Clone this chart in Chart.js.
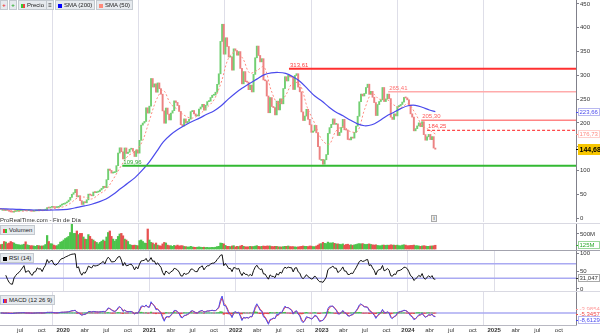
<!DOCTYPE html>
<html>
<head>
<meta charset="utf-8">
<script src="https://cdn.jsdelivr.net/npm/chart.js@4.4.1/dist/chart.umd.min.js"></script>
<style>
  body { margin: 0; background: #fff; }
  #wrap { position: relative; width: 600px; height: 336px; overflow: hidden; background: #fff;
          font-family: "Liberation Sans", Arial, sans-serif; font-size: 6px; color: #222; }
  #wrap canvas { position: absolute; left: 0; }
  .sep { position: absolute; left: 0; width: 600px; height: 1px; }
  .box { position: absolute; box-sizing: border-box; height: 10px; line-height: 8px; background: #e6eaee;
         border: 1px solid #c3c9cf; white-space: nowrap; padding: 0 2px 0 1px; }
  .sq { display: inline-block; width: 4px; height: 4px; margin: 0 2px 0 1px; vertical-align: -0.5px; }
</style>
</head>
<body>
<div id="wrap">
  <canvas id="price" width="600" height="222" style="top:0"></canvas>
  <canvas id="volume" width="600" height="26" style="top:224px"></canvas>
  <canvas id="rsi" width="600" height="40" style="top:251px"></canvas>
  <canvas id="macd" width="600" height="44" style="top:292px"></canvas>

  <div class="sep" style="top:223px;background:#d9d9e2"></div>
  <div class="sep" style="top:250px;background:#a3a3ae"></div>
  <div class="sep" style="top:291px;background:#d9d9e2"></div>
  <div class="sep" style="top:325px;width:577px;background:#b8b8c2"></div>

  <div class="box" style="left:0;top:0;width:8px;color:#e33;font-weight:bold;text-align:center;padding:0">+</div>
  <div class="box" style="left:9px;top:0;width:8px;color:#2a2;font-weight:bold;text-align:center;padding:0">+</div>
  <div class="box" style="left:18px;top:0"><span class="sq" style="background:linear-gradient(90deg,#3c3 50%,#e44 50%)"></span>Precio</div>
  <div class="box" style="left:46px;top:0;width:8px;text-align:center;padding:0">&#8801;</div>
  <div class="box" style="left:55px;top:0"><span class="sq" style="background:#00f"></span>SMA (200)</div>
  <div class="box" style="left:96px;top:0"><span class="sq" style="background:#ff8a7a"></span>SMA (50)</div>

  <div style="position:absolute;left:0;top:216px;line-height:8px;color:#333">ProRealTime.com - Fin de Día</div>
  <div style="position:absolute;left:431px;top:215px;width:6px;height:7px;box-sizing:border-box;border:1px solid #aaa;background:#eee;line-height:5px;text-align:center;font-size:5px">i</div>

  <div class="box" style="left:0;top:225px"><span class="sq" style="background:linear-gradient(90deg,#e44 50%,#3c3 50%)"></span>Volumen</div>
  <div class="box" style="left:0;top:253px"><span class="sq" style="background:#000"></span>RSI (14)</div>
  <div class="box" style="left:0;top:295px"><span class="sq" style="background:linear-gradient(90deg,#33f 33%,#e33 33%,#e33 66%,#a3a 66%)"></span>MACD (12 26 9)</div>
</div>

<script>
const FONT = '"Liberation Sans", Arial, sans-serif';
const DAY = 864e5;

// weekly closes, first week ends Fri 2019-04-12 (split adjusted)
const firstWeek = Date.UTC(2019, 3, 12);
const firstOpen = 18.3;
const close2019 = [18.2,18.2,15.8,17.1, 15.9,14.1,12.7,12.3, 13.6,14.2,14.7,15.0, 15.6,16.3,17.2,15.2,15.6,
  15.7,14.6,14.1,15.0, 15.1,16.3,16.0,16.1,15.4, 16.5,17.5,21.9,20.9, 22.5,23.5,22.2,21.9, 22.4,23.9,27.0,28.7,29.5];
const close2020 = [31.9,34.0,37.6,43.4, 49.9,53.3,60.1,44.5, 46.9,36.4,28.5,34.3,32.0, 38.2,50.2,48.3,46.7,
  54.6,53.3,54.4,55.7, 59.0,62.3,66.7,63.9,80.5, 102.9,100.0,94.5,95.4, 96.8,110.0,136.6,147.6,139.4,
  124.0,147.3,135.7,138.4, 144.7,146.3,140.3,129.3, 143.1,136.4,163.3,195.3,199.7, 203.0,231.7,220.6,235.2];
const close2021 = [293.3,275.4,282.0,264.5, 284.0,272.0,260.4,225.2, 199.3,231.2,218.3,206.2,220.6,
  225.7,246.3,243.0,236.5, 224.1,196.3,193.3,208.4,199.7, 203.0,207.8,223.6,226.0, 218.9,214.6,214.7,229.1,
  233.4,239.0,226.8,237.1,244.7, 245.7,253.3,258.1,258.5, 264.5,281.1,303.2,371.3,
  407.4,344.5,379.0,360.6,338.3, 339.0,310.9,355.7,352.3];
const close2022 = [342.3,349.9,314.6,282.1,307.8, 286.7,285.7,269.9,279.4, 265.1,302.0,336.9,361.5,
  341.8,328.3,335.0,290.3, 288.5,256.5,221.3,253.2,234.5, 232.2,216.8,245.7,227.3, 250.8,240.1,272.2,297.1,
  288.2,300.0,296.7,296.1,270.2, 299.7,303.4,275.3,265.3, 223.1,205.0,214.4,228.5,207.5,
  196.0,180.2,182.9,194.7, 179.1,150.2,123.2,123.2];
const close2023 = [113.1,122.4,133.4,177.9,190.0, 196.9,208.3,196.9,197.8, 173.4,180.1,190.4,207.5,
  185.5,185.0,165.1,164.3, 170.1,168.0,180.1,193.2,214.0, 244.4,260.5,256.6,261.8, 274.4,281.4,260.0,266.4,253.9,
  242.7,215.5,238.6,245.0, 248.5,274.4,244.9,250.2, 260.5,251.1,212.0,207.3,219.0,
  214.7,234.3,235.5,238.8, 243.8,253.5,252.5,248.5];
const close2024 = [237.5,219.0,212.2,183.3,187.9, 193.6,200.0,192.0,202.6, 175.3,163.6,170.8,175.8,
  164.9,171.1,147.1,144.68];

// volume, millions (split adjusted)
const vol2019 = [150,160,250,230, 180,200,250,220, 200,160,150,140, 130,140,160,240,140,
  120,110,110,100, 90,120,110,100,100, 110,150,450,250, 180,170,130,110, 110,150,230,250,300];
const vol2020 = [350,380,420,550, 900,520,520,600, 480,520,520,400,330, 320,480,420,330, 300,250,220,170,
  220,260,300,260,400, 550,600,420,330, 260,320,420,500,520, 440,330,300,250, 150,130,120,130,
  120,110,280,300,250, 200,190,666,300];
const vol2021 = [220,200,150,200, 130,110,100,170, 220,200,130,110,110, 90,120,100,130, 100,110,110,85,80,
  70,65,90,70, 60,55,60,70, 60,55,60,50,55, 45,50,55,50, 60,80,90,200, 190,170,120,90,90, 80,100,110,70];
const vol2022 = [90,80,100,120,90, 75,70,75,90, 80,85,95,110, 90,80,90,100, 90,100,100,100,85,
  80,90,90,75, 70,70,80,90, 90,100,80,80,80, 70,65,70,80, 90,100,90,90,80, 100,95,80,80, 100,130,170,180];
const vol2023 = [220,190,180,230,200, 200,210,190,170, 170,160,150,170, 130,150,160,130, 140,120,140,150,170,
  180,170,180,160, 150,160,170,150,140, 130,140,120,110, 110,130,130,120, 130,120,140,130,130,
  120,130,110,110, 130,140,130,110];
const vol2024 = [110,120,120,130,110, 110,100,90,100, 110,100,90,90, 100,100,110,125];

// moving averages read at the start of each month, Apr 2019 .. Apr 2024
const smaFirstMonth = [2019, 3];
const sma200 = [19.5,19.2,18.6,18.0,17.4,16.8,16.4,16.5,17.0,
  17.6,19.2,22.5,25.5,29,34,40,50,62,73,85,100,
  118,140,160,175,186,195,203,210,218,225,236,250,
  263,274,283,292,301,305,306,304,297,287,272,257,
  246,233,223,215,206,198,194,196,204,214,222,230,
  236,237,233,227];
const sma50 = [19.8,18.5,16.0,14.0,15.3,15.2,15.4,16.8,20.5,
  23.5,31,42,44,40,50,60,82,108,130,140,160,
  205,250,268,240,228,215,210,218,232,248,285,335,
  350,335,305,310,318,268,240,258,285,280,232,200,
  165,155,182,192,182,182,228,262,250,250,238,232,
  240,220,195,185];
const sma200Last = 223.66;
const sma50Last = 176.73;

// support / resistance levels and the day they start
const levelValues = [313.61, 265.41, 205.30, 184.25, 109.96];
const levelStarts = ['2022-08-15', '2023-10-09', '2024-02-26', '2024-03-22', '2020-09-08'];

// axis ticks and last values shown on the right
const priceTicks = [0, 50, 100, 150, 200, 250, 300, 350, 400, 450];
const volumeTicks = [500];
const rsiTicks = [0, 50, 100];
const rsiLevels = [30, 70];
const lastVolume = 125;
const lastRsi = 31.047;
const lastMacd = [-3.9854, -5.3457, -8.6129];
const monthNames = ['', 'abr', 'jul', 'oct'];

const X_MIN = 2019.267, X_MAX = 2025.949;
const GREEN = '#72cf72', RED = '#ec8282';

function yearFrac(t) {
  const y = new Date(t).getUTCFullYear();
  const a = Date.UTC(y, 0, 1);
  return y + (t - a) / (Date.UTC(y + 1, 0, 1) - a);
}
const comma = (v, d) => v.toFixed(d).replace('.', ',');

const closes = [].concat(close2019, close2020, close2021, close2022, close2023, close2024);
const volumes = [].concat(vol2019, vol2020, vol2021, vol2022, vol2023, vol2024);
const weekX = closes.map((c, i) => yearFrac(firstWeek + i * 7 * DAY));
const opens = closes.map((c, i) => i ? closes[i - 1] : firstOpen);
const upDown = closes.map((c, i) => c >= opens[i] ? GREEN : RED);
const volColors = closes.map((c, i) => c >= opens[i] ? '#4cc44c' : '#e85050');
const lastX = weekX[weekX.length - 1];

const monthX = sma200.map((v, i) => yearFrac(Date.UTC(smaFirstMonth[0], smaFirstMonth[1] + i, 1)));
const sma200Pts = sma200.map((v, i) => ({x: monthX[i], y: v})).concat([{x: lastX, y: sma200Last}]);
const sma50Pts = sma50.map((v, i) => ({x: monthX[i], y: v})).concat([{x: lastX, y: sma50Last}]);

// indicators, periods converted from days to weeks
function ema(src, n) {
  const k = 2 / (n + 1), out = [];
  src.forEach((v, i) => out.push(i ? out[i - 1] + k * (v - out[i - 1]) : v));
  return out;
}
function rsi(src, n) {
  let g = 0, l = 0;
  return src.map((v, i) => {
    if (!i) return null;
    const d = v - src[i - 1];
    g += ((d > 0 ? d : 0) - g) / n;
    l += ((d < 0 ? -d : 0) - l) / n;
    return i < 3 ? null : 100 - 100 / (1 + g / (l || 1e-9));
  });
}
const rsiVals = rsi(closes, 8);
const fast = ema(closes, 12 / 5), slow = ema(closes, 26 / 5);
const macdVals = fast.map((v, i) => v - slow[i]);
const signalVals = ema(macdVals, 9 / 5);
const histVals = macdVals.map((v, i) => v - signalVals[i]);

Chart.defaults.font.family = FONT;
Chart.defaults.font.size = 6;

function xScale(showLabels) {
  return {
    type: 'linear', min: X_MIN, max: X_MAX, offset: false,
    afterBuildTicks: s => {
      const t = [];
      for (let v = 2019.5; v < X_MAX; v += 0.25) t.push({value: +v.toFixed(2)});
      s.ticks = t;
    },
    grid: {color: c => (c.tick && Number.isInteger(c.tick.value)) ? '#dedee8' : 'rgba(0,0,0,0)', drawTicks: false},
    border: {display: false},
    ticks: {
      display: showLabels, autoSkip: false, maxRotation: 0, padding: 2, color: '#333',
      font: c => ({family: FONT, size: 6, weight: (c.tick && Number.isInteger(c.tick.value)) ? 'bold' : 'normal'}),
      callback: v => Number.isInteger(v) ? String(v) : monthNames[Math.round((v % 1) * 4)]
    },
    afterFit: s => { s.height = showLabels ? 11 : 0; s.paddingLeft = 0; s.paddingRight = 0; }
  };
}
function yScale(min, max, ticks, fmt) {
  return {
    position: 'right', min, max,
    afterBuildTicks: s => { s.ticks = ticks.map(v => ({value: v})); },
    grid: {drawOnChartArea: false, tickLength: 3, color: '#80808a'},
    border: {color: '#80808a'},
    ticks: {padding: 1, color: '#333', autoSkip: false, font: {family: FONT, size: 6}, callback: fmt || (v => String(v))},
    afterFit: s => { s.width = 24; s.paddingTop = 0; s.paddingBottom = 0; }
  };
}
function options(y, showX) {
  return {
    responsive: false, maintainAspectRatio: false, animation: false,
    layout: {padding: 0},
    plugins: {legend: {display: false}, tooltip: {enabled: false}},
    scales: {x: xScale(showX), y}
  };
}
function tag(ctx, y, text, o) {
  ctx.save();
  ctx.font = (o.bold ? 'bold ' : '') + (o.size || 6) + 'px ' + FONT;
  const h = o.h || 8, x = 578;
  const w = Math.max(22, ctx.measureText(text).width + 3);
  const top = Math.round(y - h / 2);
  ctx.fillStyle = o.bg || '#fff';
  ctx.fillRect(x, top, w, h);
  if (o.border) { ctx.strokeStyle = o.border; ctx.lineWidth = 1; ctx.strokeRect(x + .5, top + .5, w - 1, h - 1); }
  ctx.fillStyle = o.color;
  ctx.fillRect(576, top + Math.floor(h / 2), 2, 1);
  ctx.textBaseline = 'middle';
  ctx.fillText(text, x + 1.5, top + h / 2 + .5);
  ctx.restore();
}
const hline = (v, fromX, color, width, dash) => ({
  type: 'line', data: [{x: fromX, y: v}, {x: X_MAX, y: v}],
  borderColor: color, borderWidth: width, borderDash: dash || [], pointRadius: 0, fill: false
});

// ---------- price ----------
const levelColors = ['#ff3030', '#ffabab', '#ff8585', '#ff4a4a', '#33b933'];
const levelText = ['#ff3c3c', '#ff6f6f', '#ff5c5c', '#ff4a4a', '#2faa2f'];
const levelWidths = [2, 1.5, 1.5, 1.2, 2];
const levelX = levelStarts.map(d => yearFrac(Date.parse(d + 'T00:00:00Z')));

new Chart(document.getElementById('price'), {
  type: 'bar',
  data: {
    datasets: levelValues.map((v, i) => hline(v, levelX[i], levelColors[i], levelWidths[i], i === 3 ? [3, 2] : [])).concat([
      {type: 'line', data: sma200Pts, borderColor: '#4b4bec', borderWidth: 1.2, pointRadius: 0, tension: 0.35, fill: false},
      {type: 'line', data: sma50Pts, borderColor: '#ff8c80', borderWidth: 1, borderDash: [2, 2], pointRadius: 0, tension: 0.35, fill: false},
      {type: 'bar', data: closes.map((c, i) => ({x: weekX[i], y: [opens[i], c]})),
       backgroundColor: upDown, barThickness: 1.3, minBarLength: 1, borderWidth: 0}
    ])
  },
  options: options(yScale(-8.4, 458.4, priceTicks), false),
  plugins: [{
    id: 'priceLabels',
    afterDraw(chart) {
      const {ctx, scales: {x, y}} = chart;
      ctx.save();
      ctx.font = '6px ' + FONT;
      levelValues.forEach((v, i) => {
        ctx.fillStyle = levelText[i];
        ctx.fillText(comma(v, 2), x.getPixelForValue(levelX[i]) + 1, y.getPixelForValue(v) - 2);
      });
      ctx.restore();
      tag(ctx, y.getPixelForValue(sma200Last), comma(sma200Last, 2), {color: '#4a4aee', border: '#b8b8f0'});
      tag(ctx, y.getPixelForValue(sma50Last), comma(sma50Last, 2), {color: '#ff8a80', border: '#ffd0cc'});
      tag(ctx, y.getPixelForValue(closes[closes.length - 1]), comma(closes[closes.length - 1], 2),
          {color: '#000', bg: '#f7c600', bold: true, size: 7, h: 11});
    }
  }]
});

// ---------- volume ----------
new Chart(document.getElementById('volume'), {
  type: 'bar',
  data: {datasets: [{data: volumes.map((v, i) => ({x: weekX[i], y: v})), backgroundColor: volColors, barThickness: 1.6, borderWidth: 0}]},
  options: options(yScale(-33, 833, volumeTicks, v => v + 'M'), false),
  plugins: [{
    id: 'volTag',
    afterDraw(chart) {
      tag(chart.ctx, chart.scales.y.getPixelForValue(lastVolume), lastVolume + 'M', {color: '#2faa2f', border: '#9bd89b'});
    }
  }]
});

// ---------- RSI ----------
new Chart(document.getElementById('rsi'), {
  type: 'line',
  data: {
    datasets: [
      {data: rsiVals.map((v, i) => ({x: weekX[i], y: v})), borderColor: '#111', borderWidth: 1, pointRadius: 0, tension: 0},
      ...rsiLevels.map(v => hline(v, X_MIN, '#aaaaf2', 1.5))
    ]
  },
  options: options(yScale(-5.56, 105.56, rsiTicks), false),
  plugins: [{
    id: 'rsiTag',
    afterDraw(chart) {
      tag(chart.ctx, chart.scales.y.getPixelForValue(lastRsi), comma(lastRsi, 3), {color: '#333', border: '#aaa'});
    }
  }]
});

// ---------- MACD ----------
const macdTop = Math.max(...macdVals, ...signalVals);
const macdPpu = 17 / macdTop;
new Chart(document.getElementById('macd'), {
  type: 'bar',
  data: {
    datasets: [
      {type: 'line', data: macdVals.map((v, i) => ({x: weekX[i], y: v})), borderColor: '#5050f0', borderWidth: 1, pointRadius: 0},
      {type: 'line', data: signalVals.map((v, i) => ({x: weekX[i], y: v})), borderColor: '#ee3b3b', borderWidth: 1, pointRadius: 0},
      {type: 'bar', data: histVals.map((v, i) => ({x: weekX[i], y: v * 0.6})),
       backgroundColor: histVals.map(v => v >= 0 ? '#48c448' : '#e84848'), barThickness: 1.6, borderWidth: 0},
      hline(0, X_MIN, '#aaaaf2', 1.5)
    ]
  },
  options: options(yScale(-12 / macdPpu, 21 / macdPpu, []), true),
  plugins: [{
    id: 'macdTags',
    afterDraw(chart) {
      const z = chart.scales.y.getPixelForValue(0);
      tag(chart.ctx, z - 4, comma(lastMacd[0], 4), {color: '#ff9a9a'});
      tag(chart.ctx, z + 1, comma(lastMacd[1], 4), {color: '#f04a4a'});
      tag(chart.ctx, z + 6.5, comma(lastMacd[2], 4), {color: '#4b4bf0', border: '#b8b8f0'});
    }
  }]
});
</script>
</body>
</html>
